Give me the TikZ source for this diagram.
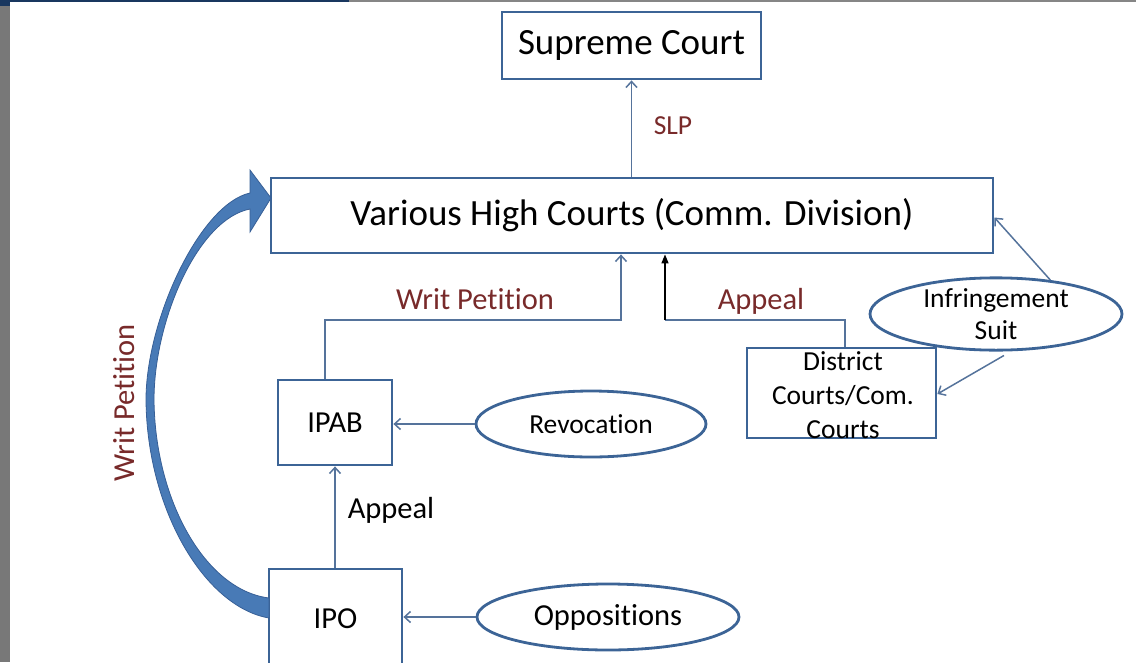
\documentclass[tikz,border=0pt]{standalone}
\usepackage{fontspec}
\setmainfont{Carlito}[Ligatures={NoCommon}]
\usetikzlibrary{arrows.meta,shapes.geometric}
\definecolor{boxblue}{RGB}{60,100,150}
\definecolor{lineblue}{RGB}{85,115,155}
\definecolor{lblred}{RGB}{120,42,42}
\definecolor{bigblue}{RGB}{72,122,182}
\definecolor{bigedge}{RGB}{55,95,150}
\definecolor{stripgray}{RGB}{120,120,120}
\definecolor{topnavy}{RGB}{25,55,95}
\tikzset{
  box/.style={draw=boxblue, line width=2.8pt, rectangle, inner sep=0pt, fill=white},
  oval/.style={draw=boxblue, line width=2.8pt, ellipse, inner sep=0pt, fill=white},
  conn/.style={draw=lineblue, line width=1.5pt, -{Straight Barb[length=6pt,width=11pt,line width=1.5pt]}},
  plain/.style={draw=lineblue, line width=1.5pt},
  blackarrow/.style={draw=black, line width=1.5pt, -{Triangle[length=9pt,width=7pt]}},
  fbig/.style={font=\fontsize{37}{44}\selectfont},
  fmid/.style={font=\fontsize{30.5}{36}\selectfont},
  fsmall/.style={font=\fontsize{27.5}{33}\selectfont},
  redlbl/.style={text=lblred, inner sep=0pt}
}
\begin{document}
\begin{tikzpicture}[x=1pt,y=-1pt]
\useasboundingbox (0,0) rectangle (1136,662);
\clip (0,0) rectangle (1136,662);
% frame decorations
\fill[stripgray] (0,0) rectangle (10,662);
\fill[stripgray!90] (349,0) rectangle (1136,2);
\fill[topnavy] (0,0) rectangle (349,2);
\fill[topnavy] (0,0) rectangle (10,6);

% nodes
\node[box, fbig, minimum width=259pt, minimum height=67pt] (sc) at (631.5,45.5) {Supreme Court};
\node[box, fbig, minimum width=722pt, minimum height=75pt] (hc) at (632,215.5) {Various High Courts (Comm. Division)};
\node[box, fmid, minimum width=114pt, minimum height=85pt] (ipab) at (335,422.5) {IPAB};
\node[box, fmid, minimum width=133pt, minimum height=100pt] (ipo) at (335.5,619) {IPO};
\node[box, minimum width=189pt, minimum height=90pt] (dist) at (841.5,393) {};
\node[fsmall, align=center, inner sep=0pt] (disttxt) at (843,395) {District\\[1pt]Courts/Com.\\[1pt]Courts};
\node[oval, fsmall, minimum width=230pt, minimum height=66pt] (rev) at (591,424) {Revocation};
\node[oval, fmid, minimum width=262pt, minimum height=66pt] (opp) at (608,617) {Oppositions};
\node[oval, fsmall, minimum width=252pt, minimum height=62pt, align=center] (inf) at (996,314) {Infringement\\[-1pt]Suit};

% connectors
\draw[conn] (sc.south |- hc.north) -- (sc.south);
\coordinate (wp1) at (621,320);
\draw[conn] ([xshift=-10pt]ipab.north) |- (wp1) -- (wp1 |- hc.south);
\coordinate (ap1) at (665,320);
\draw[plain] ([xshift=3.5pt]dist.north) |- (ap1);
\draw[blackarrow] (ap1) -- (ap1 |- hc.south);
\draw[conn] (inf.32) -- ([yshift=-2pt]hc.east);
\draw[conn] ([yshift=-4pt]inf.-78) -- ([yshift=-1pt]dist.east);
\draw[conn] (rev.west) -- (rev.west -| ipab.east);
\draw[conn] (ipab.south |- ipo.north) -- (ipab.south);
\draw[conn] (opp.west) -- (opp.west -| ipo.east);

% labels
\node[redlbl, fsmall] (slp) at (673,126) {SLP};
\node[redlbl, fmid] (wplbl) at (475,299) {Writ Petition};
\node[redlbl, fmid] (aplbl) at (761,301) {Appeal};
\node[inner sep=0pt, fmid] (ap2lbl) at (391,510) {Appeal};
\node[redlbl, fmid, rotate=90] (wpside) at (124,403) {Writ Petition};

% big curved arrow from IPO to High Courts
\fill[bigblue, draw=bigedge, line width=0.8pt]
  (269,618) .. controls (205,607) and (147,510) .. (146,400)
  .. controls (146,320) and (200,204) .. (250,193)
  -- (250,170) -- (271,198) -- (250,232) -- (250,209)
  .. controls (198,219) and (154,320) .. (154,400)
  .. controls (155,500) and (205,590) .. (269,598) -- cycle;
\end{tikzpicture}
\end{document}
